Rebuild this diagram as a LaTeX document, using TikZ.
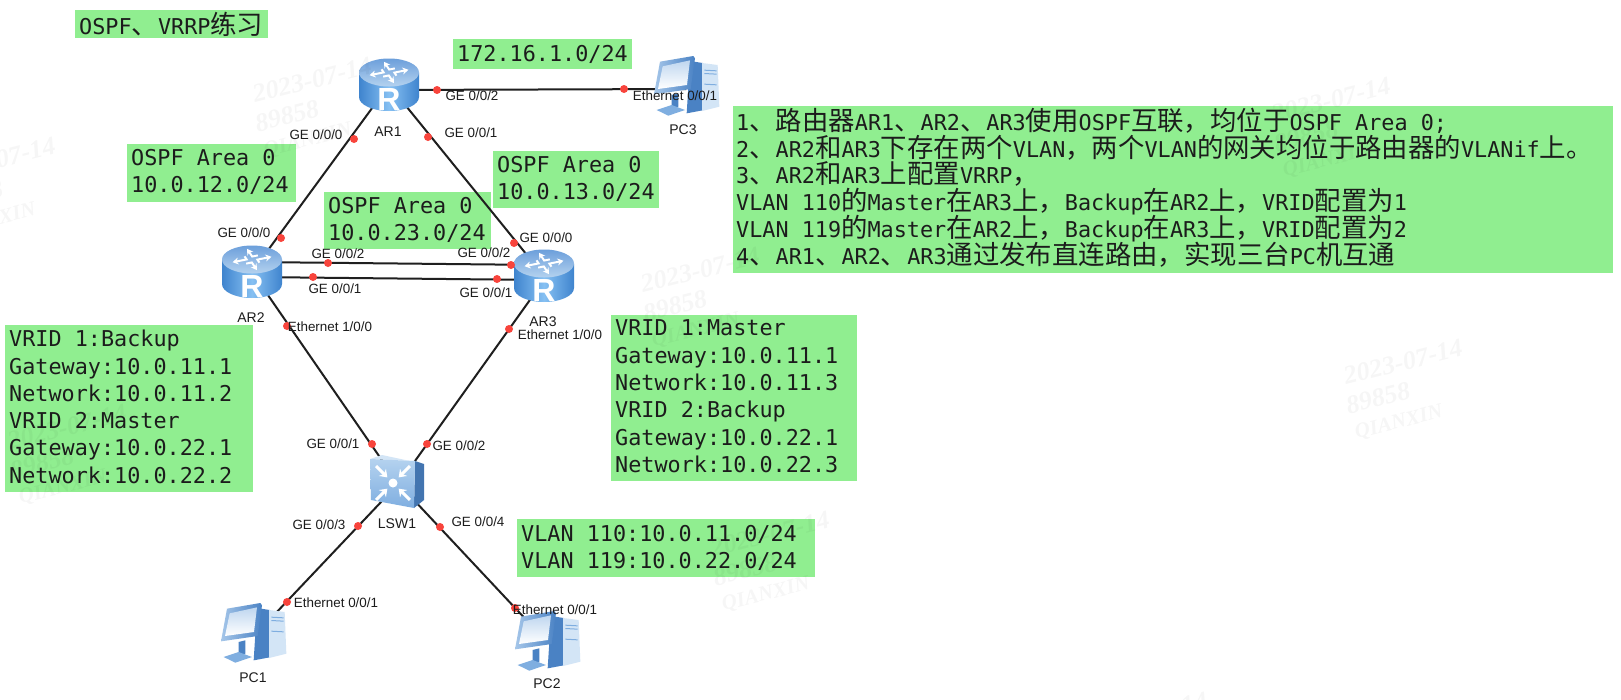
\documentclass[tikz,border=0pt]{standalone}
\usepackage{fontspec}
\usetikzlibrary{arrows.meta}
\setmainfont{Liberation Sans}
\newfontfamily\monofam{DejaVu Sans Mono}
\newfontfamily\zhfam{Noto Sans CJK SC}
\newfontfamily\wmfam{Liberation Serif}
\newcommand\zh[1]{{\zhfam\fontsize{26.4}{27}\selectfont #1}}
\newcommand\monotext{\monofam\fontsize{21.8}{27.3}\selectfont}
\newcommand\tasktext{\monofam\fontsize{21.8}{26.9}\selectfont}
\newcommand\lowdepth{\rule[-4pt]{0pt}{4pt}}
\newcommand\lowdepthzh{\rule[-7pt]{0pt}{7pt}}
\definecolor{boxgreen}{HTML}{90EE90}
\definecolor{portred}{HTML}{F8443C}
\definecolor{inktext}{HTML}{1C1C1C}
\definecolor{bodyedge}{HTML}{3F84CE}
\definecolor{bodymid}{HTML}{86C0F2}
\definecolor{topdark}{HTML}{6C9FDB}
\definecolor{toplight}{HTML}{B4D2EF}
\definecolor{pcdark}{HTML}{4A82C4}
\definecolor{pcmid}{HTML}{7FAEE0}
\definecolor{pclight}{HTML}{D3E5F6}
\tikzset{
  x=1pt,y=-1pt,
  gbox/.style={fill=boxgreen,anchor=north west,align=left,inner sep=0pt,text=inktext,font=\monotext,
    execute at begin node={\spaceskip=13.12pt\relax}},
  port/.style={circle,fill=portred,inner sep=0pt,minimum size=8pt},
  ifl/.style={font=\fontsize{13.4}{14}\selectfont,text=inktext,inner sep=0pt},
  devl/.style={font=\fontsize{14}{15}\selectfont,text=inktext,inner sep=0pt},
  wire/.style={line width=2pt,draw=black!88},
  devnode/.style={inner sep=0pt,minimum width=10pt,minimum height=10pt},
  wmark/.style={rotate=14,inner sep=0pt,text=black,opacity=.035,text opacity=.035},
  pics/routericon/.style={code={
    \path[left color=bodyedge,right color=bodyedge,middle color=bodymid]
      (-30,-12.5) -- (-30,12) arc[start angle=180,end angle=0,x radius=30,y radius=14] -- (30,-12.5) -- cycle;
    \path[top color=topdark,bottom color=toplight] (0,-12.5) ellipse[x radius=30,y radius=14];
    \begin{scope}[shift={(0,-12.5)},yscale=.55]
      \foreach \a in {20,110,200,290}{
        \draw[rotate=\a,white,line width=2pt,-{Stealth[length=6pt,width=7pt]}] (5,8) -- (5,2) -- (20,2);
      }
    \end{scope}
    \path (0,14) node[inner sep=0pt,text=white,font=\bfseries\fontsize{32}{32}\selectfont]{R};
  }},
  pics/switchicon/.style={code={
    \path[fill=pclight] (-27,-23) -- (-15,-27) -- (27,-18) -- (18,-21) -- cycle;
    \path[fill=pcdark!90!black] (18,-21) -- (27,-18) -- (27,18) -- (17,26) -- cycle;
    \path[top color=toplight,bottom color=pcmid] (-27,-23) -- (18,-21) -- (17,26) -- (-26,18) -- cycle;
    \begin{scope}[shift={(-4,1)}]
      \fill[white] (0,0) circle (4.5);
      \foreach \a in {45,135,225,315}{
        \draw[rotate=\a,white,line width=3pt,-{Stealth[length=7pt,width=10pt]}] (24,0) -- (8,0);
      }
    \end{scope}
  }},
  pics/pcicon/.style={code={
    \begin{scope}[scale=1/3]
      \path[fill=pcdark] (12,-78) -- (50,-72) -- (50,70) -- (2,79) -- cycle;
      \path[fill=pclight] (48,-72) -- (95,-66) -- (100,59) -- (48,72) -- cycle;
      \foreach \s in {-52,-42,-10}{\fill[pcmid] (55,\s) -- (92,\s+2) -- (92,\s+5) -- (55,\s+3) -- cycle;}
      \path[fill=pcdark] (-43,24) -- (-23,19) -- (-23,59) -- (-43,64) -- cycle;
      \path[fill=pcmid] (-88,69) -- (-43,54) -- (-3,69) -- (-53,86) -- cycle;
      \path[left color=pcmid!70!white,right color=pcdark] (-78,-76) -- (22,-93) -- (27,-86) -- (14,6) -- (-96,22) -- cycle;
      \path[top color=pcmid!50!white,bottom color=white] (-70,-62) -- (12,-80) -- (3,-6) -- (-84,6) -- cycle;
    \end{scope}
  }}
}
\newcommand\wm[4]{%
  \node[wmark,font=\wmfam\bfseries\itshape\fontsize{26}{26}\selectfont] (#1a) at (#2,#3) {2023-07-14};
  \node[wmark,font=\wmfam\bfseries\itshape\fontsize{26}{26}\selectfont] (#1b) at (#2-25,#3+36) {89858};
  \node[wmark,font=\wmfam\bfseries\itshape\fontsize{21}{21}\selectfont] (#1c) at (#2-4,#3+61) {QIANXIN};
}
\begin{document}
\begin{tikzpicture}
\useasboundingbox (0,0) rectangle (1621,699);
\fill[white] (0,0) rectangle (1621,699);

% green boxes
\node[gbox,minimum width=193pt,minimum height=28pt,text width=185pt,inner xsep=4pt] (boxtitle) at (75,10) {OSPF\zh{、}VRRP\zh{练习}};
\node[gbox,minimum width=179pt,minimum height=30pt,text width=171pt,inner xsep=4pt] (boxpc) at (453,39) {172.16.1.0/24};
\node[gbox,minimum width=169pt,minimum height=58pt,text width=161pt,inner xsep=4pt] (box12) at (127,144) {OSPF Area 0\\10.0.12.0/24\lowdepth};
\node[gbox,minimum width=166pt,minimum height=57pt,text width=158pt,inner xsep=4pt] (box13) at (493,151) {OSPF Area 0\\10.0.13.0/24\lowdepth};
\node[gbox,minimum width=167pt,minimum height=57pt,text width=159pt,inner xsep=4pt] (box23) at (324,192) {OSPF Area 0\\10.0.23.0/24\lowdepth};
\node[gbox,minimum width=248pt,minimum height=167pt,text width=240pt,inner xsep=4pt] (boxar2) at (5,325) {VRID 1:Backup\\Gateway:10.0.11.1\\Network:10.0.11.2\\VRID 2:Master\\Gateway:10.0.22.1\\Network:10.0.22.2\lowdepth};
\node[gbox,minimum width=246pt,minimum height=166pt,text width=238pt,inner xsep=4pt] (boxar3) at (611,315) {VRID 1:Master\\Gateway:10.0.11.1\\Network:10.0.11.3\\VRID 2:Backup\\Gateway:10.0.22.1\\Network:10.0.22.3\lowdepth};
\node[gbox,minimum width=298pt,minimum height=58pt,text width=290pt,inner xsep=4pt] (boxvlan) at (517,519) {VLAN 110:10.0.11.0/24\\VLAN 119:10.0.22.0/24};
\node[gbox,font=\tasktext,minimum width=880pt,minimum height=167pt,text width=874pt,inner xsep=3pt] (boxtask) at (733,106) {%
1\zh{、路由器}AR1\zh{、}AR2\zh{、}AR3\zh{使用}OSPF\zh{互联，均位于}OSPF Area 0;\\
2\zh{、}AR2\zh{和}AR3\zh{下存在两个}VLAN\zh{，两个}VLAN\zh{的网关均位于路由器的}VLANif\zh{上。}\\
3\zh{、}AR2\zh{和}AR3\zh{上配置}VRRP\zh{，}\\
VLAN 110\zh{的}Master\zh{在}AR3\zh{上，}Backup\zh{在}AR2\zh{上，}VRID\zh{配置为}1\\
VLAN 119\zh{的}Master\zh{在}AR2\zh{上，}Backup\zh{在}AR3\zh{上，}VRID\zh{配置为}2\\
4\zh{、}AR1\zh{、}AR2\zh{、}AR3\zh{通过发布直连路由，实现三台}PC\zh{机互通}\lowdepthzh};

% device anchors
\node[devnode] (ar1) at (389,85) {};
\node[devnode] (ar2) at (252,272) {};
\node[devnode] (ar3) at (544,276) {};
\node[devnode] (lsw) at (397,482) {};
\node[devnode] (pc1) at (253,634) {};
\node[devnode] (pc2) at (547,642) {};
\node[devnode] (pc3) at (686,87) {};

% links
\draw[wire] ([yshift=-5pt]ar1.center) -- ([yshift=-2pt]pc3.center);
\draw[wire] (ar1.center) -- (ar2.center);
\draw[wire] (ar1.center) -- (ar3.center);
\draw[wire] ([yshift=10pt]ar2.center) -- ([yshift=11pt]ar3.center);
\draw[wire] ([yshift=-5pt]ar2.center) -- ([yshift=-4pt]ar3.center);
\draw[wire] (ar2.center) -- (lsw.center);
\draw[wire] ([xshift=3pt]ar3.center) -- ([xshift=3pt]lsw.center);
\draw[wire] ([xshift=3pt]lsw.center) -- ([xshift=3pt]pc1.center);
\draw[wire] (lsw.center) -- (pc2.center);

% icons
\path (ar1) pic{routericon};
\path (ar2) pic{routericon};
\path (ar3) pic{routericon};
\path (lsw) pic{switchicon};
\path (pc1) pic{pcicon};
\path (pc2) pic{pcicon};
\path (pc3) pic{pcicon};

% ports
\node[port] (p1) at (437,90) {};
\node[port] (p2) at (624,89) {};
\node[port] (p3) at (354,139) {};
\node[port] (p4) at (281,238) {};
\node[port] (p5) at (428,137) {};
\node[port] (p6) at (514,243) {};
\node[port] (p7) at (328,263) {};
\node[port] (p8) at (511,265) {};
\node[port] (p9) at (313,277) {};
\node[port] (p10) at (497,279) {};
\node[port] (p11) at (287,326) {};
\node[port] (p12) at (372,444) {};
\node[port] (p13) at (509,329) {};
\node[port] (p14) at (427,444) {};
\node[port] (p15) at (358,526) {};
\node[port] (p16) at (287,602) {};
\node[port] (p17) at (440,527) {};
\node[port] (p18) at (515,608) {};

% interface labels
\node[ifl] (l1) at (472,96) {GE 0/0/2};
\node[ifl] (l2) at (675,96) {Ethernet 0/0/1};
\node[ifl] (l3) at (316,135) {GE 0/0/0};
\node[ifl] (l4) at (471,133) {GE 0/0/1};
\node[ifl] (l5) at (244,233) {GE 0/0/0};
\node[ifl] (l6) at (546,238) {GE 0/0/0};
\node[ifl] (l7) at (338,254) {GE 0/0/2};
\node[ifl] (l8) at (484,253) {GE 0/0/2};
\node[ifl] (l9) at (335,289) {GE 0/0/1};
\node[ifl] (l10) at (486,293) {GE 0/0/1};
\node[ifl] (l11) at (330,327) {Ethernet 1/0/0};
\node[ifl] (l12) at (560,335) {Ethernet 1/0/0};
\node[ifl] (l13) at (333,444) {GE 0/0/1};
\node[ifl] (l14) at (459,446) {GE 0/0/2};
\node[ifl] (l15) at (319,525) {GE 0/0/3};
\node[ifl] (l16) at (478,522) {GE 0/0/4};
\node[ifl] (l17) at (336,603) {Ethernet 0/0/1};
\node[ifl] (l18) at (555,610) {Ethernet 0/0/1};

% device labels
\node[devl] (nar1) at (388,132) {AR1};
\node[devl] (nar2) at (251,318) {AR2};
\node[devl] (nar3) at (543,322) {AR3};
\node[devl] (nlsw) at (397,524) {LSW1};
\node[devl] (npc1) at (253,678) {PC1};
\node[devl] (npc2) at (547,684) {PC2};
\node[devl] (npc3) at (683,130) {PC3};

% watermarks
\wm{wa}{312}{80}
\wm{wb}{628}{2}
\wm{wc}{-4}{160}
\wm{wd}{383}{347}
\wm{we}{700}{270}
\wm{wf}{1015}{187}
\wm{wg}{1331}{100}
\wm{wh}{1647}{27}
\wm{wi}{67}{427}
\wm{wj}{454}{614}
\wm{wk}{770}{534}
\wm{wl}{1088}{445}
\wm{wm}{1403}{362}
\wm{wn}{138}{694}
\wm{wo}{1148}{715}
\wm{wp}{1475}{629}
\end{tikzpicture}
\end{document}
